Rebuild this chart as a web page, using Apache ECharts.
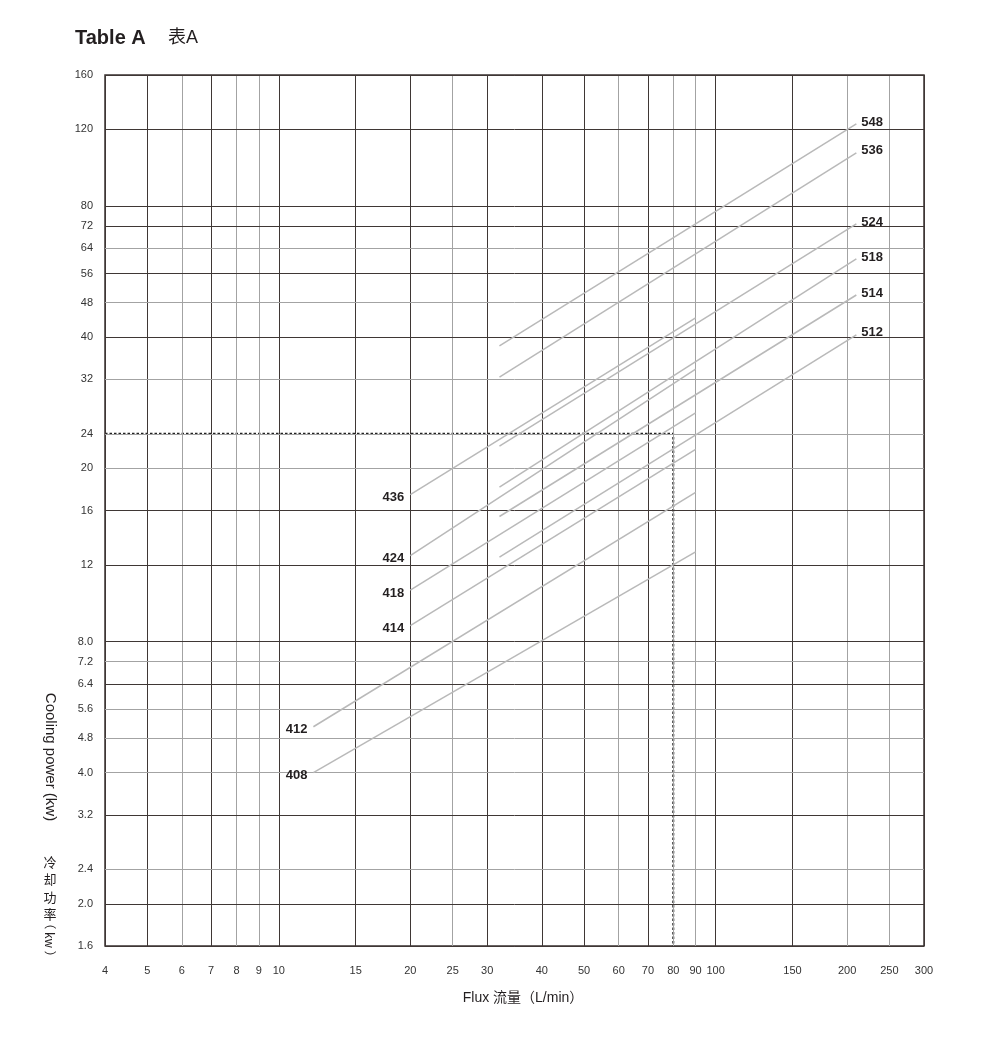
<!DOCTYPE html>
<html>
<head>
<meta charset="utf-8">
<script src="https://cdn.jsdelivr.net/npm/echarts@6/dist/echarts.min.js"></script>
<style>
html,body{margin:0;padding:0;background:#fff;}
#c{width:1004px;height:1052px;}
</style>
</head>
<body>
<div id="c"></div>
<script>
// ---- data ----
const xTicks = [4,5,6,7,8,9,10,15,20,25,30,40,50,60,70,80,90,100,150,200,250,300];
const xTickLabels = ['4','5','6','7','8','9','10','15','20','25','30','40','50','60','70','80','90','100','150','200','250','300'];
const yTicks = [1.6,2.0,2.4,3.2,4.0,4.8,5.6,6.4,7.2,8.0,12,16,20,24,32,40,48,56,64,72,80,120,160];
const yTickLabels = ['1.6','2.0','2.4','3.2','4.0','4.8','5.6','6.4','7.2','8.0','12','16','20','24','32','40','48','56','64','72','80','120','160'];

const curveNames = ['548','536','524','518','514','512','436','424','418','414','412','408'];
const curveX0 = [32,32,32,32,32,32,20,20,20,20,12,12];
const curveY0 = [38.2,32.4,22.5,18.1,15.5,12.5,17.4,12.6,10.5,8.7,5.1,4.0];
const curveX1 = [210,210,210,210,210,210,90,90,90,90,90,90];
const curveY1 = [123.5,106,72.8,60.5,50,40.5,44.3,33.8,26.8,22.1,17.6,12.85];
const labelSide = ['end','end','end','end','end','end','start','start','start','start','start','start'];

const refFlow = 80;
const refPower = 24;

// ---- styles ----
const DARK = '#3f3735';
const GREY = '#a3a3a3';
const darkX = new Set([4,5,7,10,15,20,30,40,50,70,100,150,300]);
const darkY = new Set([1.6,2.0,3.2,6.4,8.0,12,16,40,56,72,80,120,160]);
const FONT = '"Liberation Sans", Arial, sans-serif';

const xLines = xTicks.map((v,i)=>({
  xAxis: v,
  lineStyle:{color: darkX.has(v)?DARK:GREY, width:1, type:'solid'},
  label:{show:true, position:'start', formatter: xTickLabels[i], color:'#333', fontSize:11, fontFamily:FONT, distance:19}
}));
const yLines = yTicks.map((v,i)=>({
  yAxis: v,
  lineStyle:{color: darkY.has(v)?DARK:GREY, width:1, type:'solid'},
  label:{show:true, position:'start', formatter: yTickLabels[i], color:'#333', fontSize:11, fontFamily:FONT, distance:12}
}));

const curveSeries = curveNames.map((n,i)=>{
  const p0 = {value:[curveX0[i],curveY0[i]]};
  const p1 = {value:[curveX1[i],curveY1[i]]};
  const lab = {show:true, formatter:n, fontWeight:'bold', fontSize:13, color:'#231f20', fontFamily:FONT};
  if (labelSide[i]==='end') { p1.label = Object.assign({position:'right', distance:5, offset:[0,-2]}, lab); }
  else { p0.label = Object.assign({position:'left', distance:6, offset:[0,3]}, lab); }
  return {
    type:'line', name:n, data:[p0,p1], symbol:'circle', symbolSize:0, showSymbol:true,
    lineStyle:{color:'#b9b9b9', width:1.5}, itemStyle:{color:'#b9b9b9'},
    silent:true, z:5, animation:false, emphasis:{disabled:true}
  };
});

const chart = echarts.init(document.getElementById('c'), null, {renderer:'canvas'});
chart.setOption({
  animation:false,
  backgroundColor:'#fff',
  grid:{left:105, right:80, top:75, bottom:106, show:true, borderColor:'#3a3230', borderWidth:1.5, backgroundColor:'transparent', containLabel:false},
  xAxis:{type:'log', logBase:10, min:4, max:300, axisLine:{show:false}, axisTick:{show:false}, axisLabel:{show:false}, splitLine:{show:false}},
  yAxis:{type:'log', logBase:10, min:1.6, max:160, axisLine:{show:false}, axisTick:{show:false}, axisLabel:{show:false}, splitLine:{show:false}},
  series:[
    {
      type:'line', name:'grid', data:[], silent:true, z:1,
      markLine:{silent:true, symbol:['none','none'], animation:false, precision:3, data: xLines.concat(yLines)}
    },
    {
      type:'line', name:'ref', data:[[xTicks[0],refPower],[refFlow,refPower],[refFlow,yTicks[0]]],
      symbol:'none', silent:true, z:3,
      lineStyle:{color:'#222', width:2, type:[2.5,2]}
    }
  ].concat(curveSeries),
  graphic:[
    {type:'text', left:75, top:28, style:{text:'Table A', font:'bold 20px '+FONT, fill:'#231f20'}},
    {type:'text', left:168, top:29, style:{text:'表A', font:'18px "Liberation Sans","Noto Sans CJK SC", sans-serif', fill:'#231f20'}},
    {type:'text', x:50, y:757, rotation:-Math.PI/2, style:{text:'Cooling power (kw)', font:'15px '+FONT, fill:'#231f20', align:'center', verticalAlign:'middle'}},
    {type:'text', x:50, y:888, style:{text:'冷\n却\n功\n率', font:'13px "Noto Sans CJK SC", sans-serif', lineHeight:17.5, fill:'#231f20', align:'center', verticalAlign:'middle'}},
    {type:'text', x:50, y:940, rotation:-Math.PI/2, style:{text:'（ kw ）', font:'12px "Noto Sans CJK SC", sans-serif', fill:'#231f20', align:'center', verticalAlign:'middle'}},
    {type:'text', x:523, y:998, style:{text:'Flux 流量（L/min）', font:'14px "Liberation Sans","Noto Sans CJK SC", sans-serif', fill:'#231f20', align:'center', verticalAlign:'middle'}}
  ]
});
</script>
</body>
</html>
